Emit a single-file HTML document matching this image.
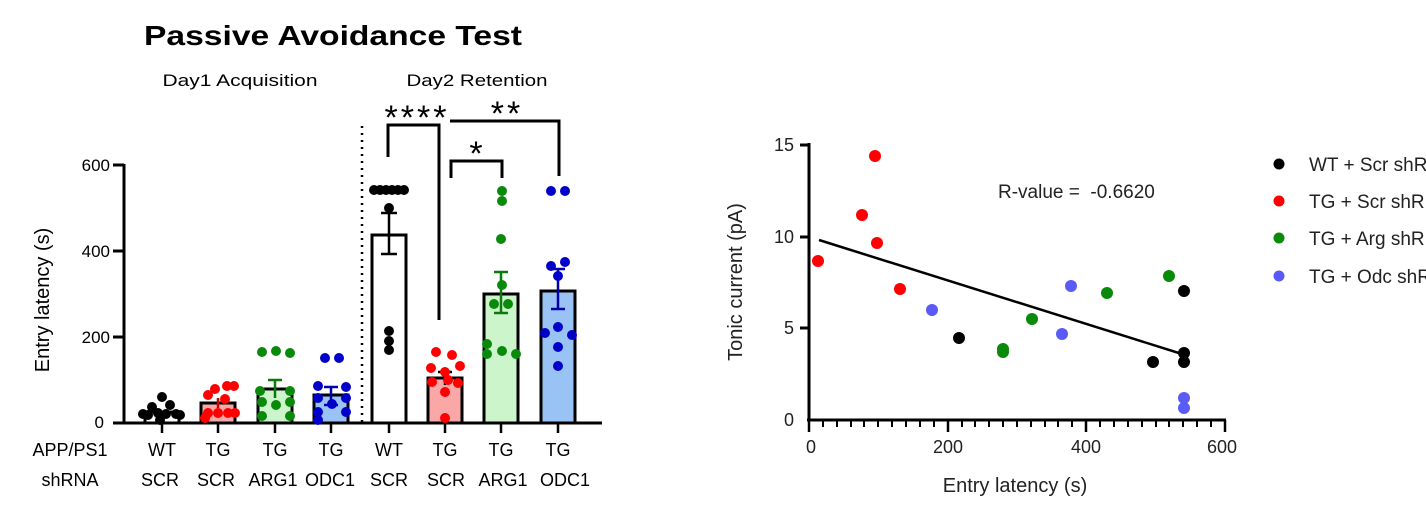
<!DOCTYPE html>
<html><head><style>html,body{margin:0;padding:0;background:#fff;}svg{display:block}</style></head>
<body>
<svg width="1426" height="513" viewBox="0 0 1426 513" xmlns="http://www.w3.org/2000/svg" font-family="Liberation Sans, sans-serif">
<!-- LEFT CHART -->
<text x="333" y="45" font-size="28" font-weight="bold" text-anchor="middle" textLength="378" lengthAdjust="spacingAndGlyphs">Passive Avoidance Test</text>
<text x="240" y="86" font-size="17" text-anchor="middle" textLength="155" lengthAdjust="spacingAndGlyphs">Day1 Acquisition</text>
<text x="477" y="86" font-size="17" text-anchor="middle" textLength="141" lengthAdjust="spacingAndGlyphs">Day2 Retention</text>
<text transform="translate(49,300) rotate(-90)" font-size="20" text-anchor="middle">Entry latency (s)</text>
<g font-size="17" text-anchor="end">
<text x="110" y="171">600</text><text x="110" y="257">400</text><text x="110" y="343">200</text><text x="104" y="428">0</text>
</g>
<g stroke="#000" stroke-width="3" fill="none">
<line x1="124" y1="164" x2="124" y2="424"/>
<line x1="113" y1="165" x2="124" y2="165"/><line x1="113" y1="251" x2="124" y2="251"/><line x1="113" y1="337" x2="124" y2="337"/><line x1="113" y1="423" x2="124" y2="423"/>
<line x1="122" y1="423" x2="602" y2="423"/>
</g>
<g stroke="#000" stroke-width="2.5">
<line x1="162" y1="423" x2="162" y2="433"/><line x1="218" y1="423" x2="218" y2="433"/><line x1="275" y1="423" x2="275" y2="433"/><line x1="331" y1="423" x2="331" y2="433"/><line x1="389" y1="423" x2="389" y2="433"/><line x1="445" y1="423" x2="445" y2="433"/><line x1="501" y1="423" x2="501" y2="433"/><line x1="558" y1="423" x2="558" y2="433"/>
</g>
<line x1="362" y1="126" x2="362" y2="422" stroke="#000" stroke-width="2.5" stroke-dasharray="2,5"/>
<!-- bars -->
<g stroke="#000" stroke-width="3">
<rect x="145" y="412" width="34" height="11" fill="#fff"/>
<rect x="201" y="403" width="34" height="20" fill="#f9a7a7"/>
<rect x="258" y="389" width="34" height="34" fill="#ccf5cc"/>
<rect x="314" y="395" width="34" height="28" fill="#99c2f5"/>
<rect x="372" y="235" width="34" height="188" fill="#fff"/>
<rect x="428" y="378" width="34" height="45" fill="#f9a7a7"/>
<rect x="484" y="294" width="34" height="129" fill="#ccf5cc"/>
<rect x="541" y="291" width="34" height="132" fill="#99c2f5"/>
</g>
<!-- error bars -->
<g stroke-width="2.5" fill="none">
<path d="M389 213V254M381 213H397M381 254H397" stroke="#000"/>
<path d="M445 372V385M438 372H452" stroke="#000"/>
<path d="M501 272V313M494 272H508M494 313H508" stroke="#0a7a0a"/>
<path d="M558 269V309M551 269H565M551 309H565" stroke="#0000aa"/>
<path d="M275 380V398M268 380H282" stroke="#0a7a0a"/>
<path d="M331 387V405M324 387H338M324 405H338" stroke="#0000aa"/>
<path d="M218 398V408" stroke="#c00"/>
</g>
<!-- points -->
<g fill="#000">
<circle cx="162" cy="397" r="5"/><circle cx="152" cy="407" r="5"/><circle cx="170" cy="405" r="5"/><circle cx="148" cy="415" r="5"/><circle cx="158" cy="413" r="5"/><circle cx="166" cy="414" r="5"/><circle cx="176" cy="414" r="5"/><circle cx="143" cy="414" r="5"/><circle cx="180" cy="415" r="5"/><circle cx="160" cy="420" r="5"/>
<circle cx="374" cy="190" r="5"/><circle cx="380" cy="190" r="5"/><circle cx="386" cy="190" r="5"/><circle cx="392" cy="190" r="5"/><circle cx="398" cy="190" r="5"/><circle cx="404" cy="190" r="5"/><circle cx="389" cy="208" r="5"/><circle cx="389" cy="331" r="5"/><circle cx="389" cy="341" r="5"/><circle cx="389" cy="350" r="5"/>
</g>
<g fill="#f00">
<circle cx="208" cy="395" r="5"/><circle cx="215" cy="389" r="5"/><circle cx="227" cy="386" r="5"/><circle cx="234" cy="386" r="5"/><circle cx="225" cy="399" r="5"/><circle cx="208" cy="413" r="5"/><circle cx="218" cy="413" r="5"/><circle cx="228" cy="413" r="5"/><circle cx="235" cy="413" r="5"/><circle cx="205" cy="418" r="5"/>
<circle cx="436" cy="352" r="5"/><circle cx="452" cy="355" r="5"/><circle cx="431" cy="368" r="5"/><circle cx="460" cy="366" r="5"/><circle cx="445" cy="372" r="5"/><circle cx="432" cy="382" r="5"/><circle cx="448" cy="380" r="5"/><circle cx="458" cy="383" r="5"/><circle cx="445" cy="392" r="5"/><circle cx="445" cy="418" r="5"/>
</g>
<g fill="#0a8a0a">
<circle cx="262" cy="352" r="5"/><circle cx="276" cy="351" r="5"/><circle cx="290" cy="353" r="5"/><circle cx="260" cy="391" r="5"/><circle cx="290" cy="391" r="5"/><circle cx="262" cy="402" r="5"/><circle cx="290" cy="402" r="5"/><circle cx="276" cy="405" r="5"/><circle cx="262" cy="416" r="5"/><circle cx="290" cy="416" r="5"/>
<circle cx="502" cy="191" r="5"/><circle cx="502" cy="201" r="5"/><circle cx="501" cy="239" r="5"/><circle cx="502" cy="285" r="5"/><circle cx="494" cy="304" r="5"/><circle cx="508" cy="304" r="5"/><circle cx="487" cy="344" r="5"/><circle cx="487" cy="354" r="5"/><circle cx="502" cy="351" r="5"/><circle cx="516" cy="354" r="5"/>
</g>
<g fill="#0000c8">
<circle cx="325" cy="358" r="5"/><circle cx="339" cy="358" r="5"/><circle cx="318" cy="386" r="5"/><circle cx="346" cy="387" r="5"/><circle cx="318" cy="398" r="5"/><circle cx="346" cy="398" r="5"/><circle cx="332" cy="404" r="5"/><circle cx="318" cy="412" r="5"/><circle cx="346" cy="412" r="5"/><circle cx="318" cy="420" r="5"/>
<circle cx="551" cy="191" r="5"/><circle cx="565" cy="191" r="5"/><circle cx="551" cy="266" r="5"/><circle cx="565" cy="262" r="5"/><circle cx="558" cy="276" r="5"/><circle cx="545" cy="333" r="5"/><circle cx="558" cy="327" r="5"/><circle cx="572" cy="335" r="5"/><circle cx="558" cy="347" r="5"/><circle cx="558" cy="366" r="5"/>
</g>
<!-- brackets -->
<g stroke="#000" stroke-width="3" fill="none">
<path d="M388 157V125H439V320"/>
<path d="M450 121H559V176"/>
<path d="M451 178V161H502V178"/>
</g>
<g font-size="34" text-anchor="middle">
<text x="417" y="129" letter-spacing="3">****</text>
<text x="507" y="125" letter-spacing="3">**</text>
<text x="476" y="165">*</text>
</g>
<!-- category labels -->
<g font-size="18" text-anchor="middle">
<text x="70" y="456">APP/PS1</text>
<text x="70" y="486">shRNA</text>
<text x="162" y="456">WT</text><text x="218" y="456">TG</text><text x="275" y="456">TG</text><text x="331" y="456">TG</text>
<text x="389" y="456">WT</text><text x="445" y="456">TG</text><text x="501" y="456">TG</text><text x="558" y="456">TG</text>
<text x="160" y="486">SCR</text><text x="216" y="486">SCR</text><text x="273" y="486">ARG1</text><text x="330" y="486">ODC1</text>
<text x="389" y="486">SCR</text><text x="446" y="486">SCR</text><text x="503" y="486">ARG1</text><text x="565" y="486">ODC1</text>
</g>

<!-- RIGHT CHART -->
<g stroke="#000" stroke-width="3" fill="none">
<line x1="809" y1="143" x2="809" y2="421"/>
<line x1="807" y1="420" x2="1226" y2="420"/>
<line x1="800" y1="145" x2="809" y2="145"/><line x1="800" y1="237" x2="809" y2="237"/><line x1="800" y1="328" x2="809" y2="328"/>
</g>
<g stroke="#000" stroke-width="2.5">
<line x1="809" y1="420" x2="809" y2="432"/><line x1="948" y1="420" x2="948" y2="432"/><line x1="1086" y1="420" x2="1086" y2="432"/><line x1="1225" y1="420" x2="1225" y2="432"/>
</g>
<g stroke="#000" stroke-width="2">
<line x1="823" y1="420" x2="823" y2="427"/><line x1="837" y1="420" x2="837" y2="427"/><line x1="851" y1="420" x2="851" y2="427"/><line x1="864" y1="420" x2="864" y2="427"/><line x1="878" y1="420" x2="878" y2="427"/><line x1="892" y1="420" x2="892" y2="427"/><line x1="906" y1="420" x2="906" y2="427"/><line x1="920" y1="420" x2="920" y2="427"/><line x1="934" y1="420" x2="934" y2="427"/>
<line x1="962" y1="420" x2="962" y2="427"/><line x1="975" y1="420" x2="975" y2="427"/><line x1="989" y1="420" x2="989" y2="427"/><line x1="1003" y1="420" x2="1003" y2="427"/><line x1="1017" y1="420" x2="1017" y2="427"/><line x1="1031" y1="420" x2="1031" y2="427"/><line x1="1045" y1="420" x2="1045" y2="427"/><line x1="1058" y1="420" x2="1058" y2="427"/><line x1="1072" y1="420" x2="1072" y2="427"/>
<line x1="1100" y1="420" x2="1100" y2="427"/><line x1="1114" y1="420" x2="1114" y2="427"/><line x1="1128" y1="420" x2="1128" y2="427"/><line x1="1142" y1="420" x2="1142" y2="427"/><line x1="1156" y1="420" x2="1156" y2="427"/><line x1="1169" y1="420" x2="1169" y2="427"/><line x1="1183" y1="420" x2="1183" y2="427"/><line x1="1197" y1="420" x2="1197" y2="427"/><line x1="1211" y1="420" x2="1211" y2="427"/>
</g>
<g font-size="18" text-anchor="end" fill="#222">
<text x="794" y="151">15</text><text x="794" y="243">10</text><text x="794" y="334">5</text><text x="794" y="426">0</text>
</g>
<g font-size="18" text-anchor="middle" fill="#222">
<text x="811" y="453">0</text><text x="948" y="453">200</text><text x="1086" y="453">400</text><text x="1222" y="453">600</text>
</g>
<text x="1015" y="492" font-size="20" text-anchor="middle" fill="#222">Entry latency (s)</text>
<text transform="translate(742,282) rotate(-90)" font-size="20" text-anchor="middle" fill="#222">Tonic current (pA)</text>
<text x="998" y="198" font-size="19" fill="#222" xml:space="preserve">R-value =  -0.6620</text>
<line x1="819" y1="240" x2="1182" y2="354" stroke="#000" stroke-width="2.5"/>
<g>
<circle cx="818" cy="261" r="6" fill="#f00"/><circle cx="862" cy="215" r="6" fill="#f00"/><circle cx="875" cy="156" r="6" fill="#f00"/><circle cx="877" cy="243" r="6" fill="#f00"/><circle cx="900" cy="289" r="6" fill="#f00"/>
<circle cx="932" cy="310" r="6" fill="#5a5af5"/><circle cx="1071" cy="286" r="6" fill="#5a5af5"/><circle cx="1062" cy="334" r="6" fill="#5a5af5"/><circle cx="1184" cy="398" r="6" fill="#5a5af5"/><circle cx="1184" cy="408" r="6" fill="#5a5af5"/>
<circle cx="959" cy="338" r="6" fill="#000"/><circle cx="1153" cy="362" r="6" fill="#000"/><circle cx="1184" cy="291" r="6" fill="#000"/><circle cx="1184" cy="353" r="6" fill="#000"/><circle cx="1184" cy="362" r="6" fill="#000"/>
<circle cx="1003" cy="349" r="6" fill="#0a8a0a"/><circle cx="1003" cy="352" r="6" fill="#0a8a0a"/><circle cx="1032" cy="319" r="6" fill="#0a8a0a"/><circle cx="1107" cy="293" r="6" fill="#0a8a0a"/><circle cx="1169" cy="276" r="6" fill="#0a8a0a"/>
</g>
<!-- legend -->
<circle cx="1279" cy="164" r="5.5" fill="#000"/>
<circle cx="1279" cy="201" r="5.5" fill="#f00"/>
<circle cx="1279" cy="238" r="5.5" fill="#0a8a0a"/>
<circle cx="1279" cy="276" r="5.5" fill="#5a5af5"/>
<g font-size="19" fill="#222">
<text x="1309" y="171">WT + Scr shRNA</text>
<text x="1309" y="208">TG + Scr shRNA</text>
<text x="1309" y="245">TG + Arg shRNA</text>
<text x="1309" y="283">TG + Odc shRNA</text>
</g>
</svg>
</body></html>
